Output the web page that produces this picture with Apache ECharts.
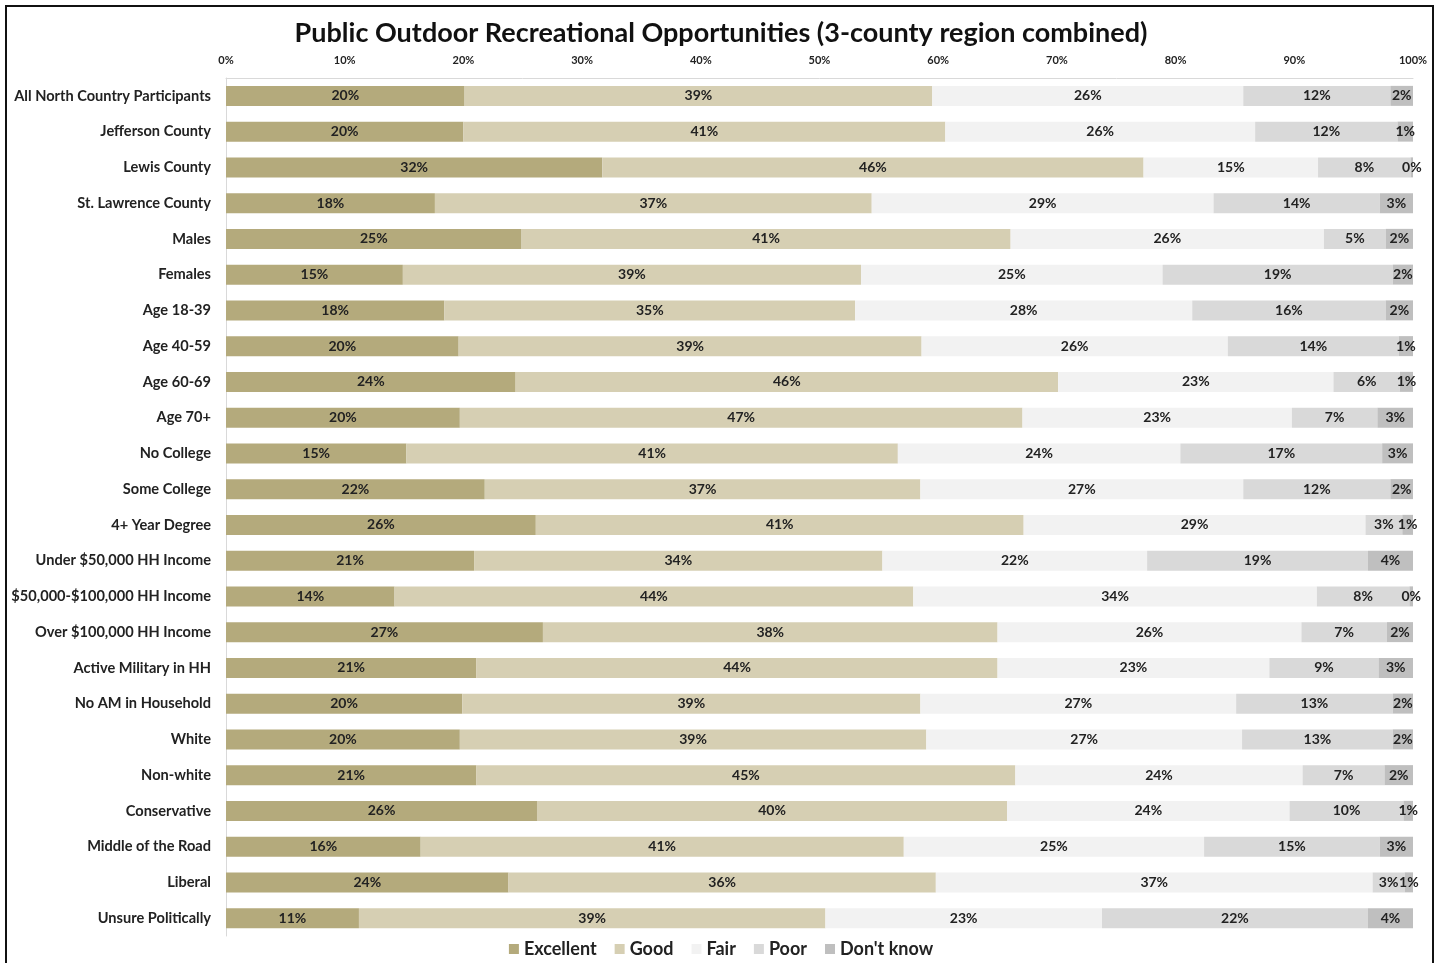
<!DOCTYPE html>
<html>
<head>
<meta charset="utf-8">
<script src="https://cdn.jsdelivr.net/npm/echarts@6/dist/echarts.min.js"></script>
<style>
html,body{margin:0;padding:0;background:#fff;}
#chart{width:1442px;height:963px;}
</style>
</head>
<body>
<div id="chart"></div>
<script>
const categories = [
  "All North Country Participants","Jefferson County","Lewis County","St. Lawrence County",
  "Males","Females","Age 18-39","Age 40-59","Age 60-69","Age 70+","No College","Some College",
  "4+ Year Degree","Under $50,000 HH Income","$50,000-$100,000 HH Income","Over $100,000 HH Income",
  "Active Military in HH","No AM in Household","White","Non-white","Conservative",
  "Middle of the Road","Liberal","Unsure Politically"
];
const excellent = [20.1,20.0,31.7,17.6,24.9,14.9,18.4,19.6,24.4,19.7,15.2,21.8,26.1,20.9,14.2,26.7,21.1,19.9,19.7,21.1,26.2,16.4,23.8,11.2];
const good      = [39.4,40.6,45.6,36.8,41.2,38.6,34.6,39.0,45.7,47.4,41.4,36.7,41.1,34.4,43.7,38.3,43.9,38.6,39.3,45.4,39.6,40.7,36.0,39.3];
const fair      = [26.2,26.1,14.7,28.8,26.4,25.4,28.4,25.8,23.2,22.7,23.8,27.2,28.8,22.3,34.0,25.6,22.9,26.6,26.6,24.2,23.8,25.3,36.8,23.3];
const poor      = [12.4,12.0,7.8,14.0,5.2,19.4,16.3,14.4,5.6,7.2,17.0,12.4,3.1,18.6,7.8,7.2,9.2,13.2,12.7,6.9,9.6,14.8,2.7,22.4];
const dontKnow  = [1.9,1.3,0.2,2.8,2.3,1.7,2.3,1.2,1.1,3.0,2.6,1.9,0.9,3.8,0.3,2.2,2.9,1.7,1.7,2.4,0.8,2.8,0.7,3.8];
const seriesNames = ["Excellent","Good","Fair","Poor","Don't know"];
const seriesColors = ["#b4aa7c","#d6cfb3","#f2f2f2","#d9d9d9","#bfbfbf"];
const tickLabels = ["0%","10%","20%","30%","40%","50%","60%","70%","80%","90%","100%"];

const FONT = 'Lato, "Open Sans", sans-serif';
const dataSets = [excellent, good, fair, poor, dontKnow];
const chart = echarts.init(document.getElementById('chart'), null, {renderer:'canvas'});
const option = {
  backgroundColor: '#ffffff',
  animation: false,
  title: {
    text: 'Public Outdoor Recreational Opportunities (3-county region combined)',
    left: 'center', top: 15,
    textStyle: {fontFamily: FONT, fontWeight: 'bold', fontSize: 27, color: '#111'}
  },
  legend: {
    bottom: 0, left: 'center',
    itemWidth: 10, itemHeight: 10, itemGap: 18,
    icon: 'rect',
    textStyle: {fontFamily: FONT, fontWeight: 'bold', fontSize: 18, color: '#222'},
    data: seriesNames
  },
  grid: {left: 226, right: 29, top: 78, bottom: 27},
  xAxis: {
    type: 'value', position: 'top', min: 0, max: 100, interval: 10,
    axisLine: {show: true, lineStyle: {color: '#d9d9d9'}},
    axisTick: {show: false},
    splitLine: {show: false},
    axisLabel: {
      fontFamily: FONT, fontWeight: 'bold', fontSize: 11, color: '#222', margin: 12,
      formatter: v => tickLabels[Math.round(v/10)]
    }
  },
  yAxis: {
    type: 'category', inverse: true, data: categories,
    axisLine: {show: true, lineStyle: {color: '#d9d9d9'}},
    axisTick: {show: false},
    axisLabel: {fontFamily: FONT, fontWeight: 'bold', fontSize: 14.6, color: '#222', margin: 15}
  },
  graphic: [{
    type: 'rect', silent: true,
    shape: {x: 6, y: 6, width: 1427, height: 975},
    style: {fill: 'none', stroke: '#111', lineWidth: 2}
  }],
  series: seriesNames.map((name, i) => ({
    name: name, type: 'bar', stack: 'total',
    barWidth: 20,
    itemStyle: {color: seriesColors[i]},
    label: {
      show: true, position: 'inside',
      fontFamily: FONT, fontWeight: 'bold', fontSize: 14, color: '#222',
      formatter: p => Math.round(p.value) + '%'
    },
    data: dataSets[i]
  }))
};
chart.setOption(option);
</script>
</body>
</html>
